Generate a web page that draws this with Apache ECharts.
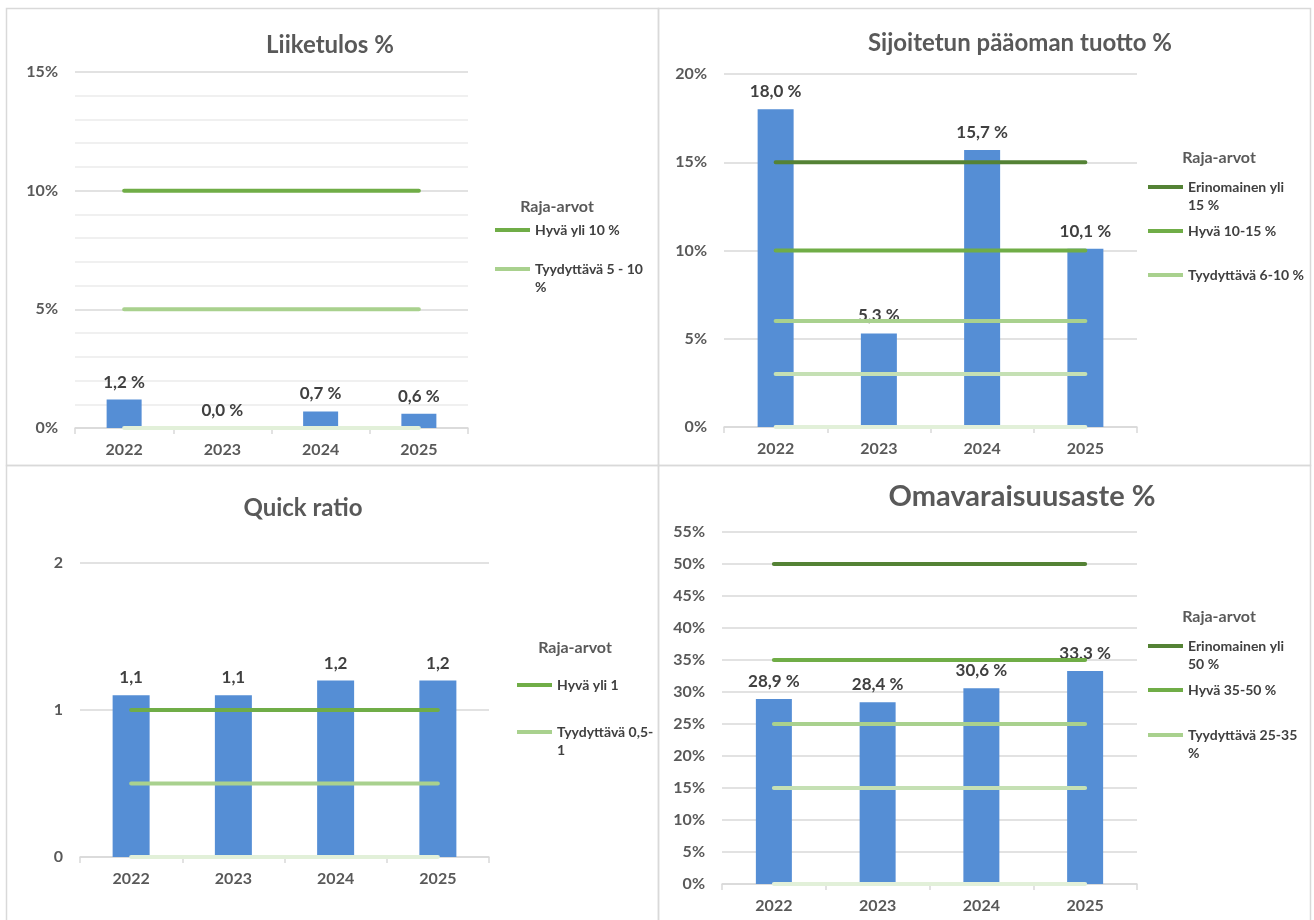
<!DOCTYPE html>
<html><head><meta charset="utf-8">
<script src="https://cdn.jsdelivr.net/npm/echarts@6/dist/echarts.min.js"></script>
<style>html,body{margin:0;padding:0;background:#fff}#c{width:1314px;height:920px}</style>
</head><body><div id="c"></div>
<script>
const years = ['2022', '2023', '2024', '2025'];

// Panel 1: Liiketulos %
const liiketulos = [1.2, 0.0, 0.7, 0.6];
const liiketulosLimits = [10, 5, 0];
const liiketulosTicks = [0, 5, 10, 15];

// Panel 2: Sijoitetun pääoman tuotto %
const spt = [18.0, 5.3, 15.7, 10.1];
const sptLimits = [15, 10, 6, 3, 0];
const sptTicks = [0, 5, 10, 15, 20];

// Panel 3: Quick ratio
const quick = [1.1, 1.1, 1.2, 1.2];
const quickLimits = [1, 0.5, 0];
const quickTicks = [0, 1, 2];

// Panel 4: Omavaraisuusaste %
const omav = [28.9, 28.4, 30.6, 33.3];
const omavLimits = [50, 35, 25, 15, 0];
const omavTicks = [0, 5, 10, 15, 20, 25, 30, 35, 40, 45, 50, 55];

const FONT = 'Lato, "Open Sans", sans-serif';
const AX = '#595959', LBL = '#404040', GRID = '#d9d9d9';
const BAR = '#558ED5';
const G1 = '#548235', G2 = '#70AD47', G3 = '#A9D18E', G4 = '#C5E0B4', G5 = '#E2F0D9';

const panels = [
  {title: 'Liiketulos %', tx: 330, ty: 45, tsize: 24,
   grid: {left: 75, top: 72, width: 393, height: 356}, ticks: liiketulosTicks, pct: true, minor: true,
   values: liiketulos, dec: 1, barW: 35,
   lines: [
     {name: 'Hyvä yli 10 %', v: liiketulosLimits[0], c: G2, leg: 'Hyvä yli 10 %', ly: 230},
     {name: 'Tyydyttävä 5 - 10 %', v: liiketulosLimits[1], c: G3, leg: 'Tyydyttävä 5 - 10\n%', ly: 269},
     {name: 'L1 raja 0', v: liiketulosLimits[2], c: G5}
   ], legX: 495, rajaX: 557, rajaY: 207},
  {title: 'Sijoitetun pääoman tuotto %', tx: 1020, ty: 43, tsize: 24,
   grid: {left: 724, top: 74, width: 413, height: 353}, ticks: sptTicks, pct: true,
   values: spt, dec: 1, barW: 36,
   lines: [
     {name: 'Erinomainen yli 15 %', v: sptLimits[0], c: G1, leg: 'Erinomainen yli\n15 %', ly: 187},
     {name: 'Hyvä 10-15 %', v: sptLimits[1], c: G2, leg: 'Hyvä 10-15 %', ly: 231},
     {name: 'Tyydyttävä 6-10 %', v: sptLimits[2], c: G3, leg: 'Tyydyttävä 6-10 %', ly: 275},
     {name: 'L2 raja 3', v: sptLimits[3], c: G4},
     {name: 'L2 raja 0', v: sptLimits[4], c: G5}
   ], legX: 1148, rajaX: 1219, rajaY: 158},
  {title: 'Quick ratio', tx: 303, ty: 508, tsize: 24,
   grid: {left: 80, top: 563, width: 409, height: 294}, ticks: quickTicks, pct: false,
   values: quick, dec: 1, barW: 37,
   lines: [
     {name: 'Hyvä yli 1', v: quickLimits[0], c: G2, leg: 'Hyvä yli 1', ly: 685},
     {name: 'Tyydyttävä 0,5-1', v: quickLimits[1], c: G3, leg: 'Tyydyttävä 0,5-\n1', ly: 732},
     {name: 'L3 raja 0', v: quickLimits[2], c: G5}
   ], legX: 517, rajaX: 575, rajaY: 648},
  {title: 'Omavaraisuusaste %', tx: 1022, ty: 497, tsize: 29,
   grid: {left: 722, top: 532, width: 415, height: 352}, ticks: omavTicks, pct: true,
   values: omav, dec: 1, barW: 36,
   lines: [
     {name: 'Erinomainen yli 50 %', v: omavLimits[0], c: G1, leg: 'Erinomainen yli\n50 %', ly: 646},
     {name: 'Hyvä 35-50 %', v: omavLimits[1], c: G2, leg: 'Hyvä 35-50 %', ly: 690},
     {name: 'Tyydyttävä 25-35 %', v: omavLimits[2], c: G3, leg: 'Tyydyttävä 25-35\n%', ly: 735},
     {name: 'L4 raja 15', v: omavLimits[3], c: G4},
     {name: 'L4 raja 0', v: omavLimits[4], c: G5}
   ], legX: 1148, rajaX: 1219, rajaY: 617}
];

const fmt = (v, dec, pct) => v.toFixed(dec).replace('.', ',') + (pct ? ' %' : '');

const grids = [], xAxes = [], yAxes = [], series = [], legends = [], graphics = [];

// panel frames
[[6, 8, 652, 457], [658, 8, 652, 457], [6, 465, 652, 470], [658, 465, 652, 470]].forEach(r => {
  graphics.push({type: 'rect', shape: {x: r[0] + 0.5, y: r[1] + 0.5, width: r[2], height: r[3]},
    style: {fill: 'none', stroke: GRID, lineWidth: 1.5}, z: -10});
});

panels.forEach((p, i) => {
  grids.push(Object.assign({containLabel: false}, p.grid));
  xAxes.push({type: 'category', gridIndex: i, data: years, boundaryGap: true,
    axisLine: {lineStyle: {color: GRID, width: 1.5}},
    axisTick: {show: true, length: 6, lineStyle: {color: GRID, width: 1.5}},
    axisLabel: {color: AX, fontFamily: FONT, fontSize: 16, fontWeight: 'bold', margin: 14}});
  const mn = p.ticks[0], mx = p.ticks[p.ticks.length - 1], iv = p.ticks[1] - p.ticks[0];
  yAxes.push({type: 'value', gridIndex: i, min: mn, max: mx, interval: iv,
    axisLine: {show: false}, axisTick: {show: false},
    splitLine: {lineStyle: {color: GRID, width: 1.5}},
    minorTick: {show: false, splitNumber: 5},
    minorSplitLine: {show: !!p.minor, lineStyle: {color: '#ececec', width: 1.5}},
    axisLabel: {color: AX, fontFamily: FONT, fontSize: 16, fontWeight: 'bold', margin: 17,
      formatter: v => p.pct ? v + '%' : String(v)}});
  series.push({type: 'bar', name: 'Arvo ' + (i + 1), xAxisIndex: i, yAxisIndex: i, data: p.values,
    barWidth: p.barW, itemStyle: {color: BAR}, silent: true,
    label: {show: true, position: 'top', distance: 9, color: LBL, fontFamily: FONT,
      fontSize: 17, fontWeight: 'bold', formatter: d => fmt(d.value, p.dec, p.pct)}});
  p.lines.forEach(l => {
    series.push({type: 'line', name: l.name, xAxisIndex: i, yAxisIndex: i,
      data: years.map(() => l.v), symbol: 'none', silent: true,
      lineStyle: {color: l.c, width: 4, cap: 'round'}, itemStyle: {color: l.c}});
    if (l.leg) {
      const multi = l.leg.indexOf('\n') >= 0;
      legends.push({data: [l.name], left: p.legX, top: l.ly - (multi ? 27 : 9), orient: 'vertical',
        icon: 'rect', itemWidth: 35, itemHeight: 4, padding: 0, selectedMode: false,
        formatter: () => (multi ? '\n' : '') + l.leg,
        textStyle: {color: LBL, fontFamily: FONT, fontSize: 14, fontWeight: 'bold', lineHeight: 18}});
    }
  });
  graphics.push({type: 'text', x: p.tx, y: p.ty, style: {text: p.title, fill: AX,
    font: 'bold ' + p.tsize + 'px ' + FONT, textAlign: 'center', textVerticalAlign: 'middle'}});
  graphics.push({type: 'text', x: p.rajaX, y: p.rajaY, style: {text: 'Raja-arvot', fill: AX,
    font: 'bold 16px ' + FONT, textAlign: 'center', textVerticalAlign: 'middle'}});
});

const chart = echarts.init(document.getElementById('c'), null, {renderer: 'canvas'});
chart.setOption({animation: false, backgroundColor: '#fff', grid: grids, xAxis: xAxes, yAxis: yAxes,
  series: series, legend: legends, graphic: graphics, tooltip: {show: false}});
</script></body></html>
